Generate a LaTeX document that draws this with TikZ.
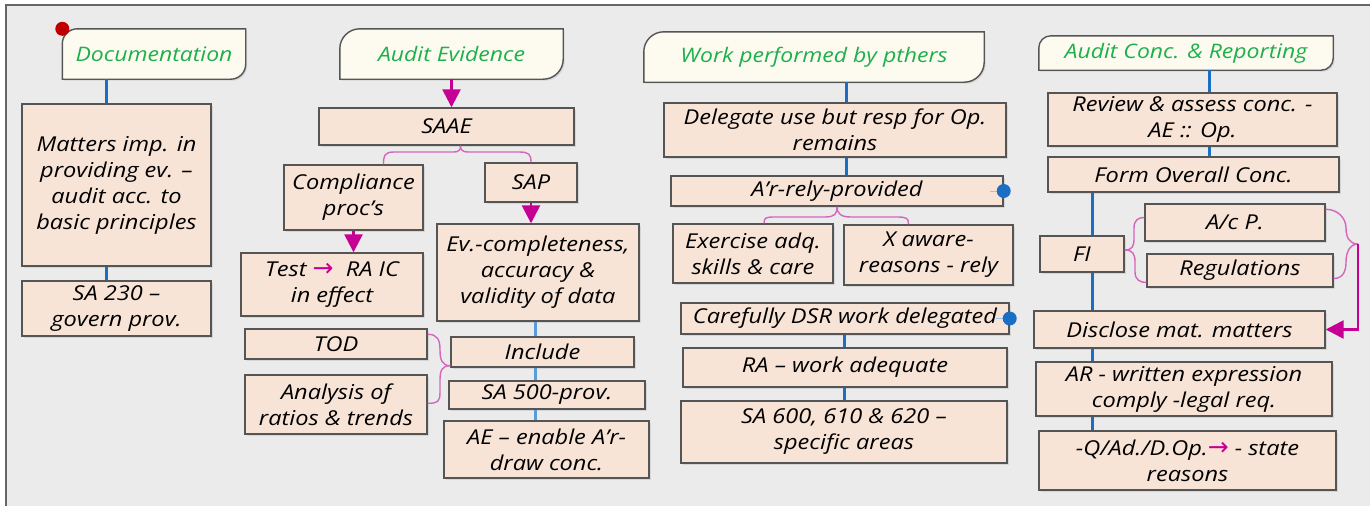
\documentclass[tikz,border=0pt]{standalone}
\usepackage{fontspec}
\setmainfont{Open Sans}[FakeStretch=1.15]
\newfontfamily\dejavu{DejaVu Sans}
\usetikzlibrary{arrows.meta,shadows,calc}
\definecolor{bgc}{HTML}{EBEBEB}
\definecolor{framec}{HTML}{666666}
\definecolor{boxc}{HTML}{F8E4D6}
\definecolor{hdrc}{HTML}{FDFBF0}
\definecolor{edgec}{HTML}{555555}
\definecolor{greenc}{HTML}{1DB04B}
\definecolor{bluec}{HTML}{1A6FC4}
\definecolor{lbluec}{HTML}{5A9BD8}
\definecolor{magc}{HTML}{C70094}
\definecolor{pinkc}{HTML}{D665BC}
\definecolor{dotred}{HTML}{C00000}
\pgfdeclarelayer{bottom}
\pgfdeclarelayer{background}
\pgfsetlayers{bottom,background,main}
\newcommand\hdrpath[2]{%
  \begin{pgfonlayer}{background}
  \path[draw=edgec,line width=1.4pt,fill=hdrc,drop shadow={shadow xshift=1.5pt,shadow yshift=-1.5pt,opacity=0.2}]
    (#1.south west) -- ([yshift=-#2]#1.north west) arc[start angle=180,end angle=90,radius=#2]
    -- (#1.north east) -- ([yshift=#2]#1.south east) arc[start angle=0,end angle=-90,radius=#2] -- cycle;
  \end{pgfonlayer}}
\newcommand\marrow{\textcolor{magc}{\fontsize{25}{26}\selectfont\dejavu\upshape →}}
\begin{document}
\begin{tikzpicture}[x=1pt,y=-1pt,
  box/.style={draw=edgec,line width=1.4pt,fill=boxc,align=center,inner sep=0pt,
    text=black,font=\fontsize{20.5}{26}\selectfont\itshape,
    drop shadow={shadow xshift=1.5pt,shadow yshift=-1.5pt,opacity=0.2}},
  hbox/.style={align=center,inner sep=0pt,text=greenc,font=\fontsize{20}{26}\selectfont\itshape},
  blu/.style={draw=bluec,line width=3pt},
  lblu/.style={draw=lbluec,line width=3pt},
  marr/.style={draw=magc,line width=2.6pt,-{Triangle[length=18pt,width=18pt]}},
  brc/.style={draw=pinkc,line width=1.4pt}]
\useasboundingbox (0,0) rectangle (1370,506);
\begin{pgfonlayer}{bottom}
\fill[white] (0,0) rectangle (1370,506);
\fill[bgc] (6,5) rectangle (1370,506);
\draw[framec,line width=2pt] (6,506) -- (6,5) -- (1370,5);
\end{pgfonlayer}
% ---------- column 1
\node[hbox,minimum width=183pt,minimum height=50pt] (hdoc) at (154,54) {Documentation};
\hdrpath{hdoc}{15pt}
\fill[dotred] (hdoc.north west) circle[radius=7pt];
\node[box,minimum width=189pt,minimum height=162pt] (m1) at (116.5,185) {Matters imp. in\\providing ev. –\\audit acc. to\\basic principles};
\node[box,minimum width=189pt,minimum height=55pt] (m2) at (116.5,308.5) {SA 230 –\\govern prov.};
\coordinate (c1) at (106,0);
\draw[blu] (hdoc.south -| c1) -- (m1.north -| c1);
\draw[blu] (m1.south -| c1) -- (m2.north -| c1);
% ---------- column 2
\node[hbox,minimum width=223pt,minimum height=50pt] (hae) at (451.5,54) {Audit Evidence};
\hdrpath{hae}{20pt}
\node[box,minimum width=255pt,minimum height=37pt] (saae) at (446.5,126.5) {SAAE};
\node[box,minimum width=139pt,minimum height=65pt] (comp) at (353.5,197.5) {Compliance\\proc’s};
\node[box,minimum width=92pt,minimum height=39pt] (sap) at (531,182.5) {SAP};
\node[box,minimum width=202pt,minimum height=97pt] (ev) at (538,272.5) {Ev.-completeness,\\accuracy \&\\validity of data};
\node[box,minimum width=182pt,minimum height=63pt] (test) at (332,284.5) {Test \marrow\ \ RA IC\\in effect};
\node[box,minimum width=182pt,minimum height=30pt] (tod) at (336,344) {TOD};
\node[box,minimum width=182pt,minimum height=59pt] (ana) at (336,404.5) {Analysis of\\ratios \& trends};
\node[box,minimum width=183pt,minimum height=30pt] (inc) at (542.5,352) {Include};
\node[box,minimum width=196pt,minimum height=28pt] (sa500) at (547,395) {SA 500-prov.};
\node[box,minimum width=205pt,minimum height=57pt] (aec) at (546.5,449.5) {AE – enable A’r-\\draw conc.};
\draw[marr] (hae.south) -- (hae.south |- saae.north);
\draw[marr] (comp.south) -- (comp.south |- test.north);
\draw[marr] (sap.south) -- (sap.south |- ev.north);
\coordinate (c2) at (535,0);
\draw[lblu] (ev.south -| c2) -- (inc.north -| c2);
\draw[lblu] (inc.south -| c2) -- (sa500.north -| c2);
\draw[lblu] (sa500.south -| c2) -- (aec.north -| c2);
\coordinate (t2) at ([xshift=14pt]saae.south);
\draw[brc] (t2) .. controls +(0,7) and +(10,0) .. (447,152) -- (394,152) .. controls +(-10,0) and +(0,-8) .. ([xshift=30pt]comp.north);
\draw[brc] (t2) .. controls +(0,7) and +(-10,0) .. (475,152) -- (519,152) .. controls +(10,0) and +(0,-8) .. (sap.north);
\coordinate (t3) at ([yshift=2pt]inc.south west);
\draw[brc] ([yshift=-6pt]tod.north east) .. controls +(10,0) and +(0,-10) .. (440,350) .. controls +(0,10) and +(-8,0) .. (t3);
\draw[brc] (t3) .. controls +(-8,0) and +(0,-10) .. (440,380) -- (440,392) .. controls +(0,10) and +(10,0) .. ([yshift=-29pt]ana.north east);
% ---------- column 3
\node[hbox,minimum width=340pt,minimum height=50pt] (hwp) at (814,57) {Work performed by pthers};
\hdrpath{hwp}{20pt}
\node[box,minimum width=342pt,minimum height=54pt] (del) at (835,130) {Delegate use but resp for Op.\\remains};
\node[box,minimum width=332pt,minimum height=30pt] (arp) at (837,191) {A’r-rely-provided};
\node[box,minimum width=160pt,minimum height=59pt] (exs) at (753,253.5) {Exercise adq.\\skills \& care};
\node[box,minimum width=169pt,minimum height=60pt] (xaw) at (928.5,255) {X aware-\\reasons - rely};
\node[box,minimum width=328pt,minimum height=31pt] (car) at (845,318.5) {Carefully DSR work delegated};
\node[box,minimum width=324pt,minimum height=39pt] (ra) at (845,367.5) {RA – work adequate};
\node[box,minimum width=326pt,minimum height=62pt] (sa6) at (844,432) {SA 600, 610 \& 620 –\\specific areas};
\coordinate (c3) at (846,0);
\coordinate (c3b) at (844,0);
\draw[blu] (hwp.south -| c3) -- (del.north -| c3);
\draw[blu] (del.south -| c3) -- (arp.north -| c3);
\draw[blu] (car.south -| c3b) -- (ra.north -| c3b);
\draw[blu] (ra.south -| c3b) -- (sa6.north -| c3b);
\draw[brc] (arp.south) .. controls +(0,7) and +(10,0) .. (825,217) -- (776,217) .. controls +(-10,0) and +(0,-6) .. ([xshift=11pt]exs.north);
\draw[brc] (arp.south) .. controls +(0,7) and +(-10,0) .. (851,217) -- (897,217) .. controls +(10,0) and +(0,-6) .. ([xshift=-20pt]xaw.north);
\draw[lbluec!60,line width=0.8pt] ([xshift=-14pt]arp.east) -- (arp.east);
\fill[bluec] (arp.east) circle[radius=7pt];
\draw[lbluec!60,line width=0.8pt] ([xshift=-14pt]car.east) -- (car.east);
\fill[bluec] (car.east) circle[radius=7pt];
% ---------- column 4
\node[hbox,minimum width=294pt,minimum height=34pt] (hac) at (1186,53) {Audit Conc. \& Reporting};
\hdrpath{hac}{12pt}
\node[box,minimum width=289pt,minimum height=53pt] (rev) at (1192.5,119.5) {Review \& assess conc. -\\AE :: Op.};
\node[box,minimum width=291pt,minimum height=35pt] (form) at (1193.5,174.5) {Form Overall Conc.};
\node[box,minimum width=84pt,minimum height=36pt] (fi) at (1082,254) {FI};
\node[box,minimum width=180pt,minimum height=37pt] (acp) at (1235,222.5) {A/c P.};
\node[box,minimum width=186pt,minimum height=33pt] (reg) at (1240,270.5) {Regulations};
\node[box,minimum width=291pt,minimum height=37pt] (dis) at (1179.5,329.5) {Disclose mat. matters};
\node[box,minimum width=296pt,minimum height=54pt] (arw) at (1184,389) {AR - written expression\\comply -legal req.};
\node[box,minimum width=297pt,minimum height=59pt] (q) at (1187.5,460.5) {-Q/Ad./D.Op.\marrow\ - state\\reasons};
\coordinate (c4a) at (1209,0);
\coordinate (c4) at (1092,0);
\draw[blu] (hac.south -| c4a) -- (rev.north -| c4a);
\draw[blu] (rev.south -| c4a) -- (form.north -| c4a);
\draw[blu] (form.south -| c4) -- (fi.north -| c4);
\draw[blu] (fi.south -| c4) -- (dis.north -| c4);
\draw[blu] (dis.south -| c4) -- (arw.north -| c4);
\draw[blu] (arw.south -| c4) -- (q.north -| c4);
\coordinate (t4) at ([yshift=4pt]fi.east);
\draw[brc] (t4) .. controls +(8,0) and +(0,8) .. (1134,238) -- (1134,228) .. controls +(0,-8) and +(-6,0) .. ([yshift=5pt]acp.west);
\draw[brc] (t4) .. controls +(8,0) and +(0,-8) .. (1135,262) -- (1135,272) .. controls +(0,8) and +(-6,0) .. ([yshift=-12pt]reg.west);
\coordinate (rtip) at (1358,244);
\draw[brc] ([yshift=-6pt]acp.north east) .. controls +(12,0) and +(0,-10) .. (1346,228) .. controls +(0,10) and +(-8,0) .. (rtip);
\draw[brc] ([yshift=-8pt]reg.east) .. controls +(10,0) and +(0,8) .. (1346,262) .. controls +(0,-10) and +(-8,0) .. (rtip);
\draw[marr] (rtip) -- (rtip |- dis.east) -- (dis.east);
\end{tikzpicture}
\end{document}
